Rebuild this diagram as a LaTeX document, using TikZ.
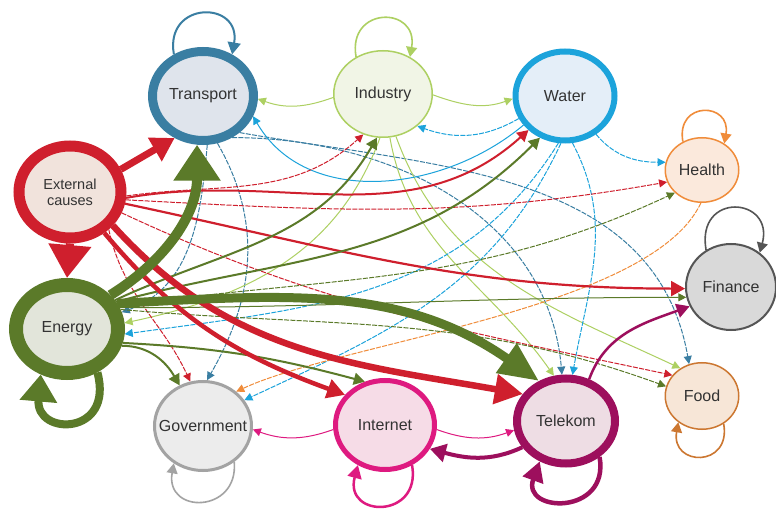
\documentclass[tikz,border=0pt]{standalone}
\usepackage{fontspec}
\setmainfont{Liberation Sans}
\usetikzlibrary{shapes.geometric,arrows.meta}
\definecolor{cRed}{HTML}{CF1F2D}
\definecolor{cOlive}{HTML}{5B7A29}
\definecolor{cSteel}{HTML}{3A7EA2}
\definecolor{cLime}{HTML}{ADD062}
\definecolor{cCyan}{HTML}{1CA3DB}
\definecolor{cOrange}{HTML}{F08C3A}
\definecolor{cMag}{HTML}{9D0F5D}
\definecolor{cPink}{HTML}{DE1A80}
\definecolor{cGray}{HTML}{A3A3A3}
\definecolor{cDark}{HTML}{555555}
\definecolor{cTxt}{HTML}{333333}
\definecolor{fExt}{HTML}{F1E3DC}
\definecolor{fTrans}{HTML}{DFE4EC}
\definecolor{fInd}{HTML}{F1F5E6}
\definecolor{fWater}{HTML}{E4EEF8}
\definecolor{fHealth}{HTML}{FBE9DC}
\definecolor{fFin}{HTML}{D9D9D9}
\definecolor{fFood}{HTML}{F7E6D7}
\definecolor{fTele}{HTML}{EEDDE4}
\definecolor{fInet}{HTML}{F6DCE7}
\definecolor{fGov}{HTML}{ECECEC}
\definecolor{fEnergy}{HTML}{E2E5DA}
\tikzset{
  nd/.style={ellipse, draw, inner sep=0pt},
  lbl/.style={text=cTxt, font=\fontsize{16}{17}\selectfont, inner sep=0pt},
  thinE/.style={line width=1pt, -{Triangle[length=8pt,width=8pt]}},
  dsh/.style={dash pattern=on 5pt off 1.3pt},
  medE/.style={line width=2pt, -{Triangle[length=11pt,width=12pt]}},
  loopE/.style={line width=1.6pt, -{Triangle[length=10pt,width=11pt]}},
}
\begin{document}
\begin{tikzpicture}[x=1pt,y=-1pt]
\useasboundingbox (0,0) rectangle (776,510);
\fill[white] (0,0) rectangle (776,510);

% nodes
\node[nd, draw=cRed, fill=fExt, line width=11pt, minimum width=102pt, minimum height=92pt,
  label={[lbl, align=center, font=\fontsize{14.5}{16}\selectfont]center:External\\causes}] (ext) at (70,192) {};
\node[nd, draw=cSteel, fill=fTrans, line width=9pt, minimum width=101pt, minimum height=89pt,
  label={[lbl]center:Transport}] (trans) at (203,96) {};
\node[nd, draw=cLime, fill=fInd, line width=1.5pt, minimum width=98.5pt, minimum height=86.5pt,
  label={[lbl]center:Industry}] (ind) at (383,94) {};
\node[nd, draw=cCyan, fill=fWater, line width=6pt, minimum width=99pt, minimum height=89pt,
  label={[lbl]center:Water}] (water) at (565,96) {};
\node[nd, draw=cOrange, fill=fHealth, line width=1.5pt, minimum width=73.5pt, minimum height=64.5pt,
  label={[lbl]center:Health}] (health) at (702,170) {};
\node[nd, draw=cDark, fill=fFin, line width=2pt, minimum width=90pt, minimum height=86pt,
  label={[lbl]center:Finance}] (finance) at (731,287) {};
\node[nd, draw=cOrange!85!black, fill=fFood, line width=1.5pt, minimum width=73.5pt, minimum height=66.5pt,
  label={[lbl]center:Food}] (food) at (702,396) {};
\node[nd, draw=cMag, fill=fTele, line width=8pt, minimum width=98pt, minimum height=85pt,
  label={[lbl]center:Telekom}] (tele) at (566,421) {};
\node[nd, draw=cPink, fill=fInet, line width=5pt, minimum width=99pt, minimum height=89pt,
  label={[lbl]center:Internet}] (inet) at (385,425) {};
\node[nd, draw=cGray, fill=fGov, line width=3pt, minimum width=97pt, minimum height=89pt,
  label={[lbl]center:Government}] (gov) at (203,426) {};
\node[nd, draw=cOlive, fill=fEnergy, line width=14pt, minimum width=102pt, minimum height=88pt,
  label={[lbl]center:Energy}] (energy) at (67,329) {};

% ---- thin edges ----
% Transport
\draw[cSteel, thinE, dsh] (trans.275) to[out=265,in=20] (energy.17);
\draw[cSteel, thinE, dsh] (trans.287) to[out=-60,in=60] (gov.85);
\draw[cSteel, thinE, dsh] (trans.305) to[out=0,in=95] (tele.95);
\draw[cSteel, thinE, dsh] (trans.315) to[out=-10,in=100] (food.112);
% Industry
\draw[cLime, thinE] (ind.184) to[out=200,in=340] (trans.357);
\draw[cLime, thinE] (ind.-1) to[out=-20,in=200] (water.183);
\draw[cLime, thinE] (ind.266) to[out=250,in=12] (energy.6);
\draw[cLime, thinE] (ind.279) to[out=-80,in=125] (tele.105);
\draw[cLime, thinE] (ind.287) to[out=-70,in=155] (food.128);
% Water
\draw[cCyan, thinE, dsh] (water.206) to[out=210,in=-20] (ind.317);
\draw[cCyan, thinE] (water.215) to[out=220,in=300] (trans.338);
\draw[cCyan, thinE, dsh] (water.309) to[out=-50,in=180] (health.168);
\draw[cCyan, thinE, dsh] (water.279) to[out=-62,in=80] (tele.82);
\draw[cCyan, thinE, dsh] (water.262) to[out=238,in=8] (energy.-5);
\draw[cCyan, thinE, dsh] (water.265) to[out=245,in=25] (gov.32);
% Health
\draw[cOrange, thinE, dsh] (health.268) to[out=245,in=25,looseness=0.6] (gov.46);
% External causes (thin)
\draw[cRed, thinE, dsh] (ext.-4) to[out=8,in=222] (ind.244);
\draw[cRed, thinE, dsh] (ext.-8) to[out=-3,in=190] (health.199);
\draw[cRed, thinE, dsh] (ext.-22) to[out=-25,in=168] (food.145);
\draw[cRed, thinE, dsh] (ext.316) to[out=-78,in=115] (gov.106);
% Energy (thin)
\draw[cOlive, thinE, dsh] (energy.24) to[out=8,in=205] (health.220);
\draw[cOlive, thinE] (energy.22) to[out=0,in=180] (finance.193);
\draw[cOlive, thinE, dsh] (energy.20) to[out=-5,in=160] (food.165);
% Internet
\draw[cPink, thinE] (inet.355) to[out=-20,in=200] (tele.190);
\draw[cPink, thinE] (inet.185) to[out=200,in=-20] (gov.356);

% ---- medium edges ----
\draw[cRed, medE] (ext.-6) to[out=10,in=222] (water.223);
\draw[cRed, line width=2.2pt, -{Triangle[length=14pt,width=15pt]}] (ext.-12) to[out=-12,in=180] (finance.182);
\draw[cOlive, medE] (energy.31) to[out=25,in=240] (ind.262);
\draw[cOlive, medE] (energy.29) to[out=15,in=225] (water.239);
\draw[cOlive, medE] (energy.-17) to[out=0,in=120] (gov.120);
\draw[cOlive, medE] (energy.-14) to[out=-3,in=165] (inet.115);
\draw[cMag, line width=2.5pt, -{Triangle[length=13pt,width=14pt]}] (tele.61) to[out=70,in=200] (finance.205);

% ---- thick edges ----
\draw[cRed, line width=4.5pt, -{Triangle[length=18pt,width=19pt]}] (ext.310) to[out=-50,in=160] (inet.143);
\draw[cRed, line width=6.5pt, -{Triangle[length=28pt,width=29pt]}] (ext.322) to[out=-48,in=170] (tele.148);
\draw[cRed, line width=7pt, -{Triangle[length=23pt,width=26pt]}] (ext.24) -- (trans.236);
\draw[cRed, line width=8pt, -{Triangle[length=33pt,width=41pt]}] (ext.270) -- (energy.90);
\draw[cOlive, line width=9pt, -{Triangle[length=40pt,width=34pt]}] (energy.27) to[out=3,in=145] (tele.124);
\draw[cOlive, line width=10pt, -{Triangle[length=36pt,width=45pt]}] (energy.38) to[out=32,in=270] (trans.263);
\draw[cMag, line width=4pt, -{Triangle[length=16pt,width=18pt]}] (tele.211) to[out=205,in=345] (inet.332);

% ---- self-loops ----
\draw[cSteel, line width=2pt, -{Triangle[length=12pt,width=13pt]}] (trans.125) .. controls +(100:55pt) and +(80:55pt) .. (trans.55);
\draw[cLime, loopE] (ind.126) .. controls +(100:52pt) and +(80:52pt) .. (ind.54);
\draw[cOrange, loopE] (health.124) .. controls +(100:42pt) and +(80:42pt) .. (health.50);
\draw[cDark, loopE] (finance.124) .. controls +(100:60pt) and +(75:58pt) .. (finance.50);
\draw[cOrange!85!black, loopE] (food.308) .. controls +(280:45pt) and +(260:45pt) .. (food.228);
\draw[cMag, line width=4.5pt, -{Triangle[length=20pt,width=21pt]}] (tele.313) .. controls +(280:60pt) and +(250:55pt) .. (tele.237);
\draw[cPink, line width=2.5pt, -{Triangle[length=13pt,width=14pt]}] (inet.304) .. controls +(280:55pt) and +(255:55pt) .. (inet.236);
\draw[cGray, loopE] (gov.311) .. controls +(275:52pt) and +(260:52pt) .. (gov.232);
\draw[cOlive, line width=8pt, -{Triangle[length=27pt,width=36pt]}] (energy.305) .. controls +(285:66pt) and +(265:62pt) .. (energy.240);
\end{tikzpicture}
\end{document}
